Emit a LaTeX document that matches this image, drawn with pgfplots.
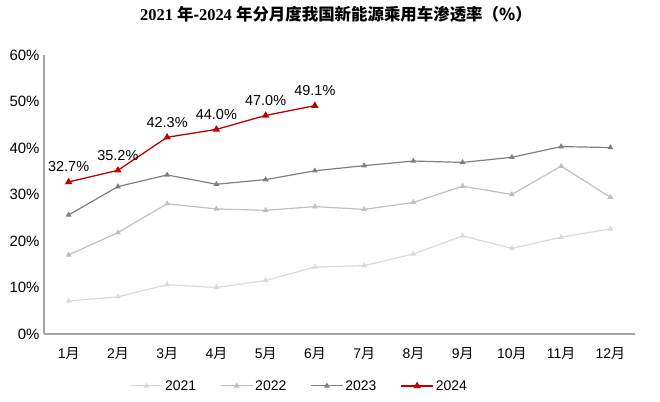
\documentclass[border=0pt]{standalone}
\usepackage{pgfplots}
\pgfplotsset{compat=1.18}
\usepackage{fontspec}
\setmainfont{Liberation Sans}
\newfontfamily\cjk{Noto Sans CJK SC}
\newfontfamily\tser{Liberation Serif}
\definecolor{c21}{HTML}{D9D9D9}
\definecolor{c22}{HTML}{BFBFBF}
\definecolor{c23}{HTML}{7F7F7F}
\definecolor{c24}{HTML}{C00000}
\definecolor{axc}{HTML}{A6A6A6}
\begin{document}
\begin{tikzpicture}[font=\fontsize{14.5}{17}\selectfont]
\begin{axis}[
  scale only axis,
  width=591bp, height=279bp,
  at={(0,0)}, anchor=south west,
  xmin=0.5, xmax=12.5,
  ymin=0, ymax=60,
  ytick={0,10,20,30,40,50,60},
  yticklabel={\pgfmathprintnumber{\tick}\%},
  /pgf/number format/assume math mode=true,
  xtick={1,...,12},
  xticklabels={1{\cjk 月},2{\cjk 月},3{\cjk 月},4{\cjk 月},5{\cjk 月},6{\cjk 月},7{\cjk 月},8{\cjk 月},9{\cjk 月},10{\cjk 月},11{\cjk 月},12{\cjk 月}},
  xticklabel style={font=\fontsize{14}{16}\selectfont, yshift=-10bp},
  yticklabel style={font=\fontsize{15}{17}\selectfont, xshift=-1bp},
  major tick length=0pt,
  axis x line*=bottom, axis y line*=left,
  axis line style={axc, line width=1.2pt, -},
  x axis line style={-}, y axis line style={-},
  legend columns=4,
  legend style={draw=none, at={(0.432,-0.186)}, anchor=center, font=\fontsize{14}{16}\selectfont,
    /tikz/every even column/.append style={column sep=22bp}},
  legend image code/.code={\draw[mark repeat=2,mark phase=2] plot coordinates {(0bp,0bp) (16bp,0bp) (32bp,0bp)};},
  clip=false,
]
\addplot[c21, line width=1.2pt, mark=triangle*, mark size=2.2pt] coordinates {
(1,7.1) (2,8.0) (3,10.6) (4,10.0) (5,11.5) (6,14.4) (7,14.7) (8,17.2) (9,21.1) (10,18.4) (11,20.8) (12,22.6)};
\addlegendentry{2021}
\addplot[c22, line width=1.2pt, mark=triangle*, mark size=2.2pt] coordinates {
(1,17.0) (2,21.8) (3,28.0) (4,26.9) (5,26.6) (6,27.4) (7,26.8) (8,28.3) (9,31.8) (10,30.0) (11,36.1) (12,29.4)};
\addlegendentry{2022}
\addplot[c23, line width=1.2pt, mark=triangle*, mark size=2.2pt] coordinates {
(1,25.6) (2,31.7) (3,34.2) (4,32.2) (5,33.2) (6,35.1) (7,36.2) (8,37.2) (9,36.9) (10,38.0) (11,40.3) (12,40.1)};
\addlegendentry{2023}
\addplot[c24, line width=1.3pt, mark=triangle*, mark size=3pt,
  nodes near coords={\pgfmathprintnumber[fixed,fixed zerofill,precision=1]{\pgfplotspointmeta}\%},
  nodes near coords style={black, anchor=south, yshift=6bp, font=\fontsize{14.5}{17}\selectfont}] coordinates {
(1,32.7) (2,35.2) (3,42.3) (4,44.0) (5,47.0) (6,49.1)};
\addlegendentry{2024}
\node[font=\fontsize{16.5}{18}\selectfont\bfseries] at (rel axis cs:0.494,1.147) {{\tser 2021 }{\cjk 年}-{\tser 2024 }{\cjk 年分月度我国新能源乘用车渗透率（\%）}};
\end{axis}
\path (-44bp,-68bp) rectangle (616bp,334bp);
\end{tikzpicture}
\end{document}
